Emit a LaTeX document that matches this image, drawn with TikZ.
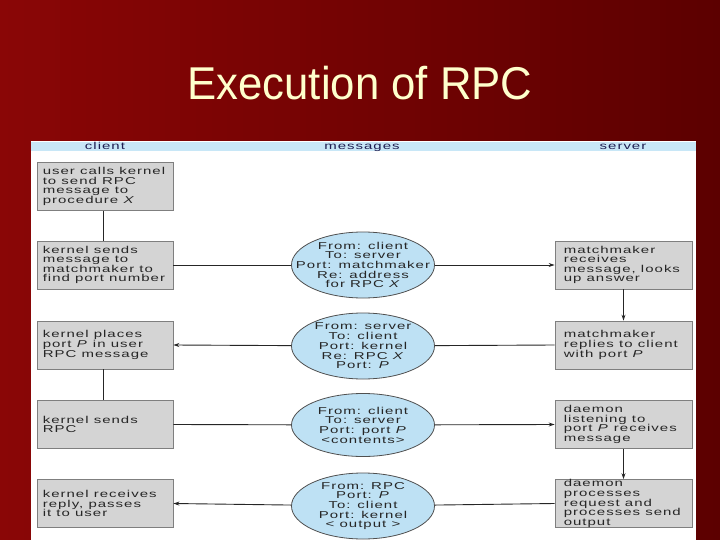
\documentclass[tikz,border=0pt]{standalone}
\usepackage{fontspec}
\setmainfont{Liberation Sans}
\newfontfamily\diagfont[FakeStretch=1.5,LetterSpace=10]{Liberation Sans}
\newfontfamily\titlefont[FakeStretch=0.95]{Liberation Sans}
\usetikzlibrary{shapes.geometric,arrows.meta}
\definecolor{bgL}{HTML}{8A0606}
\definecolor{bgR}{HTML}{5C0000}
\definecolor{titlecol}{HTML}{FFFFCC}
\definecolor{headcol}{HTML}{C8E7F7}
\definecolor{boxfill}{HTML}{D4D4D4}
\definecolor{boxline}{HTML}{7F7F7F}
\definecolor{ellfill}{HTML}{BEE1F4}
\definecolor{ellline}{HTML}{505050}
\definecolor{txtcol}{HTML}{262626}
\begin{document}
\begin{tikzpicture}[x=1pt,y=-1pt,
  box/.style={draw=boxline, fill=boxfill, line width=0.8pt, minimum width=136pt, minimum height=48pt, inner sep=0pt},
  btext/.style={font=\diagfont\fontsize{10}{9.6}\selectfont, text=txtcol, align=left, anchor=west, inner sep=0pt},
  msg/.style={ellipse, draw=ellline, fill=ellfill, line width=0.8pt, minimum width=143pt, minimum height=66pt, inner sep=0pt},
  mtext/.style={font=\diagfont\fontsize{10}{9.7}\selectfont, text=txtcol, align=center, anchor=center, inner sep=0pt},
  htext/.style={font=\diagfont\fontsize{10}{10}\selectfont, text=txtcol!80!blue, inner sep=0pt, anchor=base},
  conn/.style={draw=black!85, line width=0.9pt},
  arr/.style={conn, -{Stealth[length=6pt,width=4pt]}}]
\useasboundingbox (0,0) rectangle (720,540);
\shade[left color=bgL, right color=bgR] (0,0) rectangle (720,540);
\node[font=\titlefont\fontsize{46}{46}\selectfont, text=titlecol, anchor=base, inner sep=0pt] (title) at (360,100) {Execution of RPC};
% panel
\fill[white] (31,141) rectangle (696,540);
\fill[headcol] (31,142) rectangle (696,151);
\node[htext] (hc) at (105,149.6) {client};
\node[htext] (hm) at (362,149.6) {messages};
\node[htext] (hs) at (623,149.6) {server};
% client boxes
\node[box, label={[btext,xshift=6pt]west:{user calls kernel\\to send RPC\\message to\\procedure \textit{X}}}] (l1) at (105,186.5) {};
\node[box, label={[btext,xshift=6pt]west:{kernel sends\\message to\\matchmaker to\\find port number}}] (l2) at (105,265) {};
\node[box, label={[btext,xshift=6pt]west:{kernel places\\port \textit{P} in user\\RPC message}}] (l3) at (105,345) {};
\node[box, label={[btext,xshift=6pt]west:{kernel sends\\RPC}}] (l4) at (105,424.5) {};
\node[box, label={[btext,xshift=6pt]west:{kernel receives\\reply, passes\\it to user}}] (l5) at (105,503.5) {};
% server boxes
\node[box, minimum width=137pt, label={[btext,xshift=9pt]west:{matchmaker\\receives\\message, looks\\up answer}}] (r1) at (623.5,265) {};
\node[box, minimum width=137pt, label={[btext,xshift=9pt]west:{matchmaker\\replies to client\\with port \textit{P}}}] (r2) at (623.5,345) {};
\node[box, minimum width=137pt, label={[btext,xshift=9pt]west:{daemon\\listening to\\port \textit{P} receives\\message}}] (r3) at (623.5,424.5) {};
\node[box, minimum width=137pt, label={[btext,xshift=9pt]west:{daemon\\processes\\request and\\processes send\\output}}] (r4) at (623.5,503.5) {};
% messages
\node[msg, label={[mtext]center:{From: client\\To: server\\Port: matchmaker\\Re: address\\for RPC \textit{X}}}] (m1) at (363,265) {};
\node[msg, label={[mtext]center:{From: server\\To: client\\Port: kernel\\Re: RPC \textit{X}\\Port: \textit{P}}}] (m2) at (363,346) {};
\node[msg, minimum height=63pt, label={[mtext]center:{From: client\\To: server\\Port: port \textit{P}\\<contents>}}] (m3) at (363,425) {};
\node[msg, label={[mtext]center:{From: RPC\\Port: \textit{P}\\To: client\\Port: kernel\\< output >}}] (m4) at (363,506) {};
% connectors
\draw[conn] ([xshift=-2pt]l1.south) -- ([xshift=-2pt]l2.north);
\draw[conn] ([xshift=-2pt]l3.south) -- ([xshift=-2pt]l4.north);
\draw[arr] (r1) -- (r2);
\draw[arr] (r3) -- (r4);
\draw[conn] (l2.east) -- (m1.west);
\draw[arr] (m1.east) -- (r1.west);
\draw[conn] (r2.west) -- (m2);
\draw[arr] (m2) -- (l3.east);
\draw[conn] (l4.east) -- (m3);
\draw[arr] (m3) -- (r3.west);
\draw[conn] (r4.west) -- (m4);
\draw[arr] (m4) -- (l5.east);
\end{tikzpicture}
\end{document}
